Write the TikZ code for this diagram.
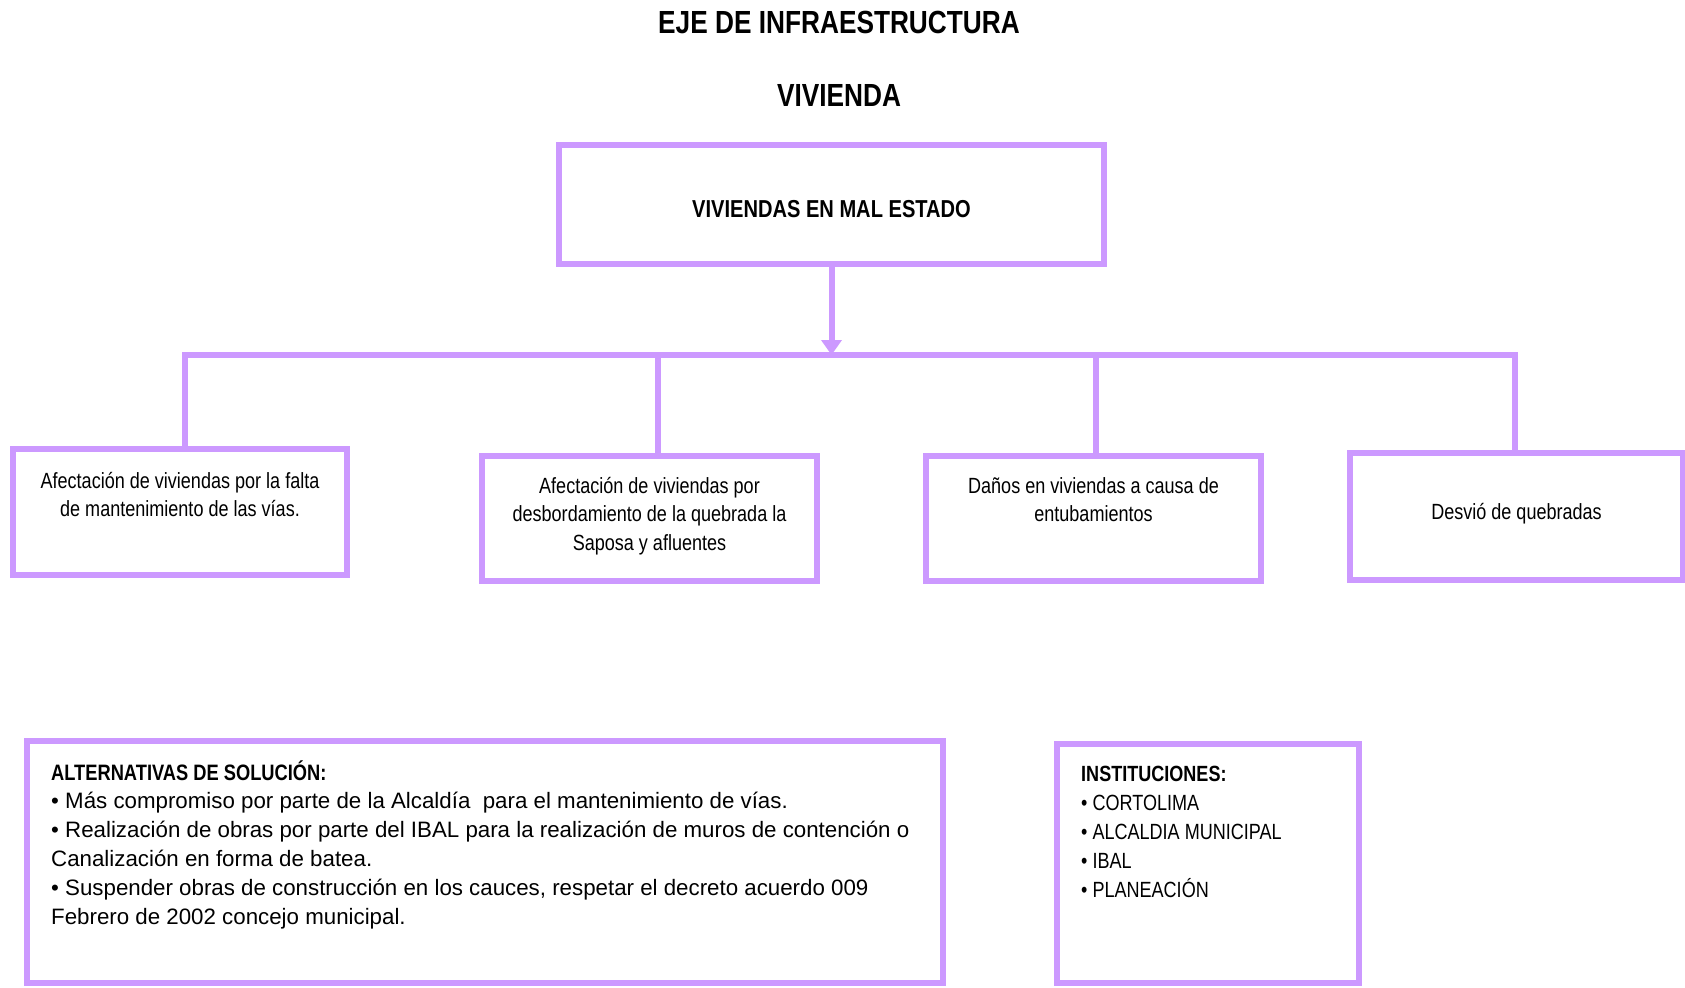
\documentclass[tikz,border=0pt]{standalone}
\usepackage{fontspec}
\setmainfont{Liberation Sans}
\newfontfamily\narrowfont{Liberation Sans}[FakeStretch=0.82]
\usepackage{tikz}
\usetikzlibrary{positioning, arrows.meta}
\usepackage{xcolor}
\definecolor{boxpurple}{HTML}{CC99FF}

\begin{document}
\begin{tikzpicture}[
  x=1pt, y=-1pt,
  box/.style={draw=boxpurple, line width=6pt, inner sep=0pt},
  txt/.style={font=\narrowfont\fontsize{22}{28.5}\selectfont, align=center, inner sep=0pt},
  lefttxt/.style={txt, align=left},
  title/.style={font=\narrowfont\bfseries\fontsize{32}{38}\selectfont, inner sep=0pt},
  link/.style={draw=boxpurple, line width=6pt},
  arrow/.style={link, -{Triangle[width=20pt, length=15pt]}},
]
  \useasboundingbox (0,0) rectangle (1685,987);
  % Titles
  \node[title, anchor=base] (eje) at (839,34) {EJE DE INFRAESTRUCTURA};
  \node[title, anchor=base] (vivienda) at (839,107) {VIVIENDA};
  % Main problem
  \node[box, minimum width=545pt, minimum height=119pt] (viv) at (831.5,204.5) {};
  \node[txt, font=\narrowfont\bfseries\fontsize{24.5}{29}\selectfont,
        below=75pt of viv.north, anchor=base] (viv_t) {VIVIENDAS EN MAL ESTADO};
  % Causes (base = last line)
  \node[box, minimum width=334pt, minimum height=126pt] (falta) at (180,512) {};
  \node[box, minimum width=335pt, minimum height=125pt] (desb) at (649.5,518.5) {};
  \node[box, minimum width=335pt, minimum height=125pt] (entub) at (1093.5,518.5) {};
  \node[box, minimum width=333pt, minimum height=127pt] (desvio) at (1516.5,516.5) {};
  \node[txt, below=70.5pt of falta.north, anchor=base] (falta_t)
    {Afectación de viviendas por la falta\\de mantenimiento de las vías.};
  \node[txt, below=97pt of desb.north, anchor=base] (desb_t)
    {Afectación de viviendas por\\desbordamiento de la quebrada la\\Saposa y afluentes};
  \node[txt, below=68.5pt of entub.north, anchor=base] (entub_t)
    {Daños en viviendas a causa de\\entubamientos};
  \node[txt, below=69pt of desvio.north, anchor=base] (desvio_t) {Desvió de quebradas};
  % Branch line
  \coordinate (hl) at (185,355);
  \coordinate (h2) at (658,355);
  \coordinate (h3) at (1096,355);
  \coordinate (hr) at (1515,355);
  \draw[link] (hl |- falta.north) -- (hl) -- (hr) -- (hr |- desvio.north);
  \draw[link] (h2) -- (h2 |- desb.north);
  \draw[link] (h3) -- (h3 |- entub.north);
  \draw[arrow] (viv.south) -- (viv.south |- hl);
  % Alternatives
  \node[box, minimum width=916pt, minimum height=242pt] (alt) at (485,862) {};
  \node[lefttxt, font=\fontsize{22.3}{28.8}\selectfont, anchor=base west]
    (alt_t) at ([xshift=27pt, yshift=-186pt]alt.north west)
    {{\narrowfont\bfseries ALTERNATIVAS DE SOLUCIÓN:}\\
     • Más compromiso por parte de la Alcaldía\ \ para el mantenimiento de vías.\\
     • Realización de obras por parte del IBAL para la realización de muros de contención o\\
     Canalización en forma de batea.\\
     • Suspender obras de construcción en los cauces, respetar el decreto acuerdo 009\\
     Febrero de 2002 concejo municipal.};
  % Institutions
  \node[box, minimum width=302pt, minimum height=239pt] (inst) at (1208,863.5) {};
  \node[lefttxt, font=\narrowfont\fontsize{22}{28.8}\selectfont, anchor=base west]
    (inst_t) at ([xshift=27pt, yshift=-156pt]inst.north west)
    {{\bfseries INSTITUCIONES:}\\
     • CORTOLIMA\\
     • ALCALDIA MUNICIPAL\\
     • IBAL\\
     • PLANEACIÓN};
\end{tikzpicture}
\end{document}
